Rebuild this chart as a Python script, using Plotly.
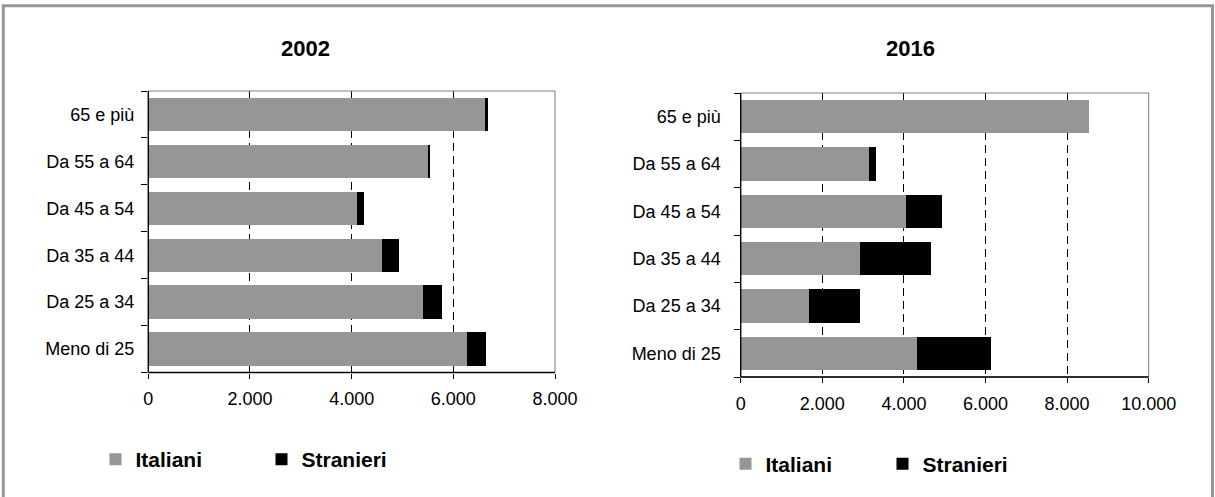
import plotly.graph_objects as go

# ---- data ----
categories = ["Meno di 25", "Da 25 a 34", "Da 35 a 44", "Da 45 a 54", "Da 55 a 64", "65 e più"]
italiani_2002 = [6260, 5410, 4600, 4110, 5495, 6620]
stranieri_2002 = [385, 360, 335, 140, 52, 55]
italiani_2016 = [4320, 1665, 2930, 4060, 3150, 8545]
stranieri_2016 = [1820, 1260, 1730, 880, 155, 0]
ticks_2002 = [0, 2000, 4000, 6000, 8000]
ticklabels_2002 = ["0", "2.000", "4.000", "6.000", "8.000"]
ticks_2016 = [0, 2000, 4000, 6000, 8000, 10000]
ticklabels_2016 = ["0", "2.000", "4.000", "6.000", "8.000", "10.000"]
titles = ["2002", "2016"]
series_names = ["Italiani", "Stranieri"]

W, H = 1215, 497
FONT = "Liberation Sans, Arial, sans-serif"
GRAY = "#969696"
BLACK = "#000000"

def px(x):
    return x / W

def py(y):
    return 1 - y / H

fig = go.Figure()

fig.add_trace(go.Bar(y=categories, x=italiani_2002, orientation="h", name=series_names[0],
                     marker=dict(color=GRAY, line=dict(width=0)), xaxis="x", yaxis="y",
                     legend="legend"))
fig.add_trace(go.Bar(y=categories, x=stranieri_2002, orientation="h", name=series_names[1],
                     marker=dict(color=BLACK, line=dict(width=0)), xaxis="x", yaxis="y",
                     legend="legend"))
fig.add_trace(go.Bar(y=categories, x=italiani_2016, orientation="h", name=series_names[0],
                     marker=dict(color=GRAY, line=dict(width=0)), xaxis="x2", yaxis="y2",
                     legend="legend2"))
fig.add_trace(go.Bar(y=categories, x=stranieri_2016, orientation="h", name=series_names[1],
                     marker=dict(color=BLACK, line=dict(width=0)), xaxis="x2", yaxis="y2",
                     legend="legend2"))

L = dict(x0=148.3, x1=555.0, y0=91.0, y1=372.5)
R = dict(x0=740.7, x1=1148.7, y0=93.0, y1=377.0)

xcommon = dict(showgrid=True, gridcolor=BLACK, gridwidth=1, griddash="8px,5px",
               zeroline=False, showline=False, ticks="outside", ticklen=5, tickcolor=BLACK,
               ticklabelstandoff=5, automargin=False,
               tickfont=dict(family=FONT, size=18, color=BLACK), fixedrange=True)
ycommon = dict(type="category", categoryorder="array", categoryarray=categories,
               showgrid=False, zeroline=False, showline=False, ticks="outside", ticklen=6,
               tickcolor=BLACK, tickson="boundaries", automargin=False,
               tickfont=dict(family=FONT, size=18, color=BLACK), fixedrange=True)

fig.update_layout(
    template="none",
    width=W, height=H, autosize=False,
    margin=dict(l=0, r=0, t=0, b=0, pad=0, autoexpand=False),
    paper_bgcolor="white", plot_bgcolor="white",
    barmode="stack", bargap=0.29,
    xaxis=dict(domain=[px(L["x0"]), px(L["x1"])], range=[0, 8000],
               tickvals=ticks_2002, ticktext=ticklabels_2002, anchor="y", **xcommon),
    yaxis=dict(domain=[py(L["y1"]), py(L["y0"])], anchor="x", ticklabelstandoff=13, **ycommon),
    xaxis2=dict(domain=[px(R["x0"]), px(R["x1"])], range=[0, 10000],
                tickvals=ticks_2016, ticktext=ticklabels_2016, anchor="y2", **xcommon),
    yaxis2=dict(domain=[py(R["y1"]), py(R["y0"])], anchor="x2", ticklabelstandoff=19, **ycommon),
    legend=dict(orientation="h", x=px(95.5), xanchor="left", y=py(459.5), yanchor="middle",
                font=dict(family=FONT, size=21, color=BLACK, weight="bold"),
                entrywidth=121, entrywidthmode="pixels", traceorder="normal",
                bgcolor="rgba(0,0,0,0)", itemclick=False, itemdoubleclick=False),
    legend2=dict(orientation="h", x=px(725.5), xanchor="left", y=py(464.2), yanchor="middle",
                 font=dict(family=FONT, size=21, color=BLACK, weight="bold"),
                 entrywidth=112, entrywidthmode="pixels", traceorder="normal",
                 bgcolor="rgba(0,0,0,0)", itemclick=False, itemdoubleclick=False),
    showlegend=True,
)

shapes = []
# outer gray frame
shapes.append(dict(type="rect", xref="paper", yref="paper", x0=px(3.3), x1=px(1212.5),
                   y0=-0.05, y1=py(5.7), line=dict(color=GRAY, width=3), layer="above"))
for ax in ("", "2"):
    xr, yr = "x%s domain" % ax, "y%s domain" % ax
    # gray plot-area border (top/right)
    shapes.append(dict(type="rect", xref=xr, yref=yr, x0=0, x1=1, y0=0, y1=1,
                       line=dict(color="#808080", width=1), layer="above"))
    # black axis lines (left/bottom)
    shapes.append(dict(type="line", xref=xr, yref=yr, x0=0, x1=0, y0=0, y1=1,
                       line=dict(color=BLACK, width=1.3), layer="above"))
    shapes.append(dict(type="line", xref=xr, yref=yr, x0=0, x1=1, y0=0, y1=0,
                       line=dict(color=BLACK, width=1.3), layer="above"))
fig.update_layout(shapes=shapes)

fig.update_layout(annotations=[
    dict(text="<b>%s</b>" % titles[0], x=px(305), y=py(48.7), xref="paper", yref="paper",
         xanchor="center", yanchor="middle", showarrow=False,
         font=dict(family=FONT, size=22, color=BLACK)),
    dict(text="<b>%s</b>" % titles[1], x=px(910), y=py(48.7), xref="paper", yref="paper",
         xanchor="center", yanchor="middle", showarrow=False,
         font=dict(family=FONT, size=22, color=BLACK)),
])

page_fix = (
    "document.documentElement.style.margin='0';"
    "document.documentElement.style.overflow='hidden';"
    "document.body.style.margin='0';"
    "document.body.style.padding='0';"
    "document.body.style.overflow='hidden';"
    "var gd=document.getElementById('{plot_id}');"
    "Plotly.relayout(gd,{width:%d,height:%d,autosize:false});"
) % (W, H)

fig.write_html("out.html", config={"responsive": False, "displayModeBar": False},
               post_script=page_fix)
